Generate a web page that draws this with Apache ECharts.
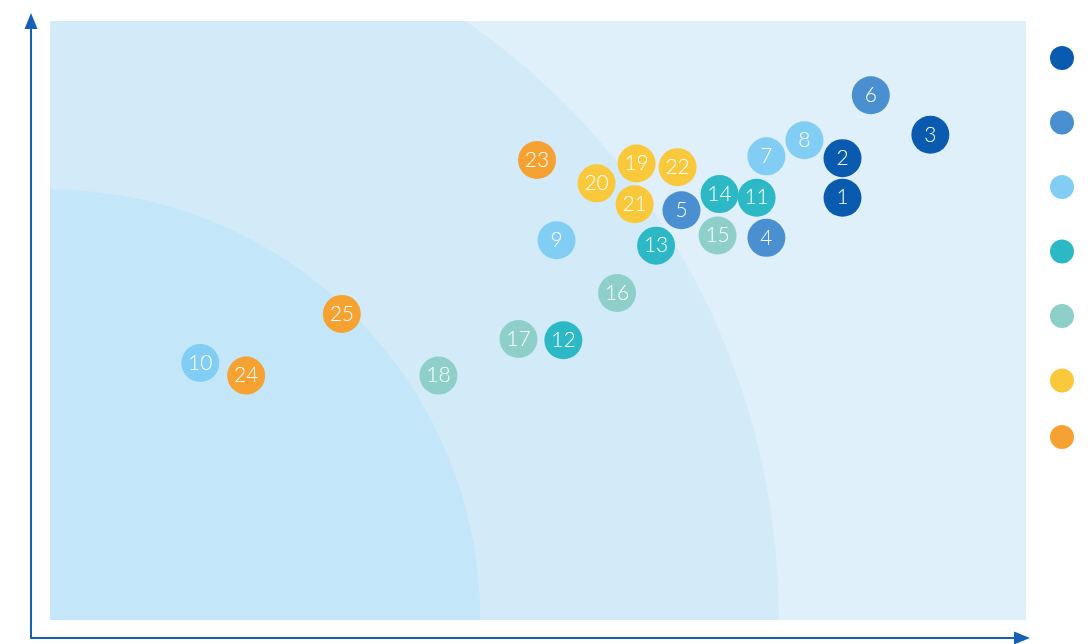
<!DOCTYPE html>
<html>
<head>
<meta charset="utf-8">
<script src="https://cdn.jsdelivr.net/npm/echarts@6/dist/echarts.min.js"></script>
<style>html,body{margin:0;padding:0;background:#fff;}#chart{width:1090px;height:644px;}</style>
</head>
<body>
<div id="chart"></div>
<script>
// Data: [x, y, id] per group
const groupNames = ['Group 1', 'Group 2', 'Group 3', 'Group 4', 'Group 5', 'Group 6', 'Group 7'];
const groupColors = ['#0a5bb0', '#4a8fd0', '#82cdf3', '#2cb9c5', '#8ecfc9', '#f9c83b', '#f5a232'];
const group1 = [[81.2, 70.5, 1], [81.2, 77.1, 2], [90.2, 81.0, 3]];
const group2 = [[73.4, 63.8, 4], [64.7, 68.4, 5], [84.1, 87.6, 6]];
const group3 = [[73.4, 77.4, 7], [77.3, 80.1, 8], [51.9, 63.4, 9], [15.4, 42.9, 10]];
const group4 = [[72.4, 70.5, 11], [52.6, 46.7, 12], [62.1, 62.5, 13], [68.6, 71.1, 14]];
const group5 = [[68.4, 64.2, 15], [58.1, 54.6, 16], [48.0, 46.9, 17], [39.8, 40.8, 18]];
const group6 = [[60.1, 76.2, 19], [56.0, 72.9, 20], [59.9, 69.4, 21], [64.3, 75.6, 22]];
const group7 = [[49.9, 76.8, 23], [20.1, 40.8, 24], [29.9, 51.1, 25]];
const groups = [group1, group2, group3, group4, group5, group6, group7];
// zone radii (in x-axis units) around the origin
const zoneRadii = [74.7, 44.1];
const zoneColors = ['#d3ebf8', '#c4e6f9'];

const chart = echarts.init(document.getElementById('chart'));

const series = [
  {
    type: 'custom',
    xAxisIndex: 1, yAxisIndex: 1,
    silent: true,
    clip: true,
    z: 1,
    data: zoneRadii.map((r, i) => [r, i]),
    renderItem: function (params, api) {
      const o = api.coord([0, 0]);
      const e = api.coord([api.value(0), 0]);
      const r = e[0] - o[0];
      return {
        type: 'sector',
        shape: { cx: o[0], cy: o[1], r0: 0, r: r, startAngle: -Math.PI / 2, endAngle: 0, clockwise: true },
        style: { fill: zoneColors[api.value(1)] }
      };
    }
  }
];
groups.forEach((g, i) => {
  series.push({
    name: groupNames[i],
    type: 'scatter',
    xAxisIndex: 1, yAxisIndex: 1,
    symbol: 'circle',
    symbolSize: 38,
    z: 3,
    itemStyle: { color: groupColors[i], opacity: 1 },
    label: {
      show: true,
      position: 'inside',
      formatter: p => String(p.value[2]),
      color: '#ffffff',
      fontSize: 21,
      fontFamily: 'Lato',
      fontWeight: 300
    },
    data: g
  });
});

const axisLineStyle = { show: true, symbol: ['none', 'triangle'], symbolSize: [13, 16], lineStyle: { color: '#1560b8', width: 2 } };

chart.setOption({
  animation: false,
  backgroundColor: '#ffffff',
  legend: [
    {
      orient: 'vertical', left: 1050, top: 46, padding: 0,
      itemWidth: 24, itemHeight: 24, itemGap: 40.5,
      icon: 'circle',
      formatter: () => '',
      selectedMode: false,
      data: groupNames.slice(0, 6)
    },
    {
      orient: 'vertical', left: 1050, top: 425, padding: 0,
      itemWidth: 24, itemHeight: 24,
      icon: 'circle',
      formatter: () => '',
      selectedMode: false,
      data: groupNames.slice(6)
    }
  ],
  grid: [
    { left: 31, right: 68, top: 21, bottom: 6, show: false },
    { left: 50, right: 64, top: 21, bottom: 24, show: true, backgroundColor: '#dff0fa', borderWidth: 0 }
  ],
  xAxis: [
    {
      gridIndex: 0, type: 'value', min: 0, max: 1,
      axisLine: axisLineStyle,
      axisTick: { show: false }, axisLabel: { show: false }, splitLine: { show: false }
    },
    {
      gridIndex: 1, type: 'value', min: 0, max: 100,
      axisLine: { show: false }, axisTick: { show: false }, axisLabel: { show: false }, splitLine: { show: false }
    }
  ],
  yAxis: [
    {
      gridIndex: 0, type: 'value', min: 0, max: 1,
      axisLine: axisLineStyle,
      axisTick: { show: false }, axisLabel: { show: false }, splitLine: { show: false }
    },
    {
      gridIndex: 1, type: 'value', min: 0, max: 100,
      axisLine: { show: false }, axisTick: { show: false }, axisLabel: { show: false }, splitLine: { show: false }
    }
  ],
  series: series
});
</script>
</body>
</html>
